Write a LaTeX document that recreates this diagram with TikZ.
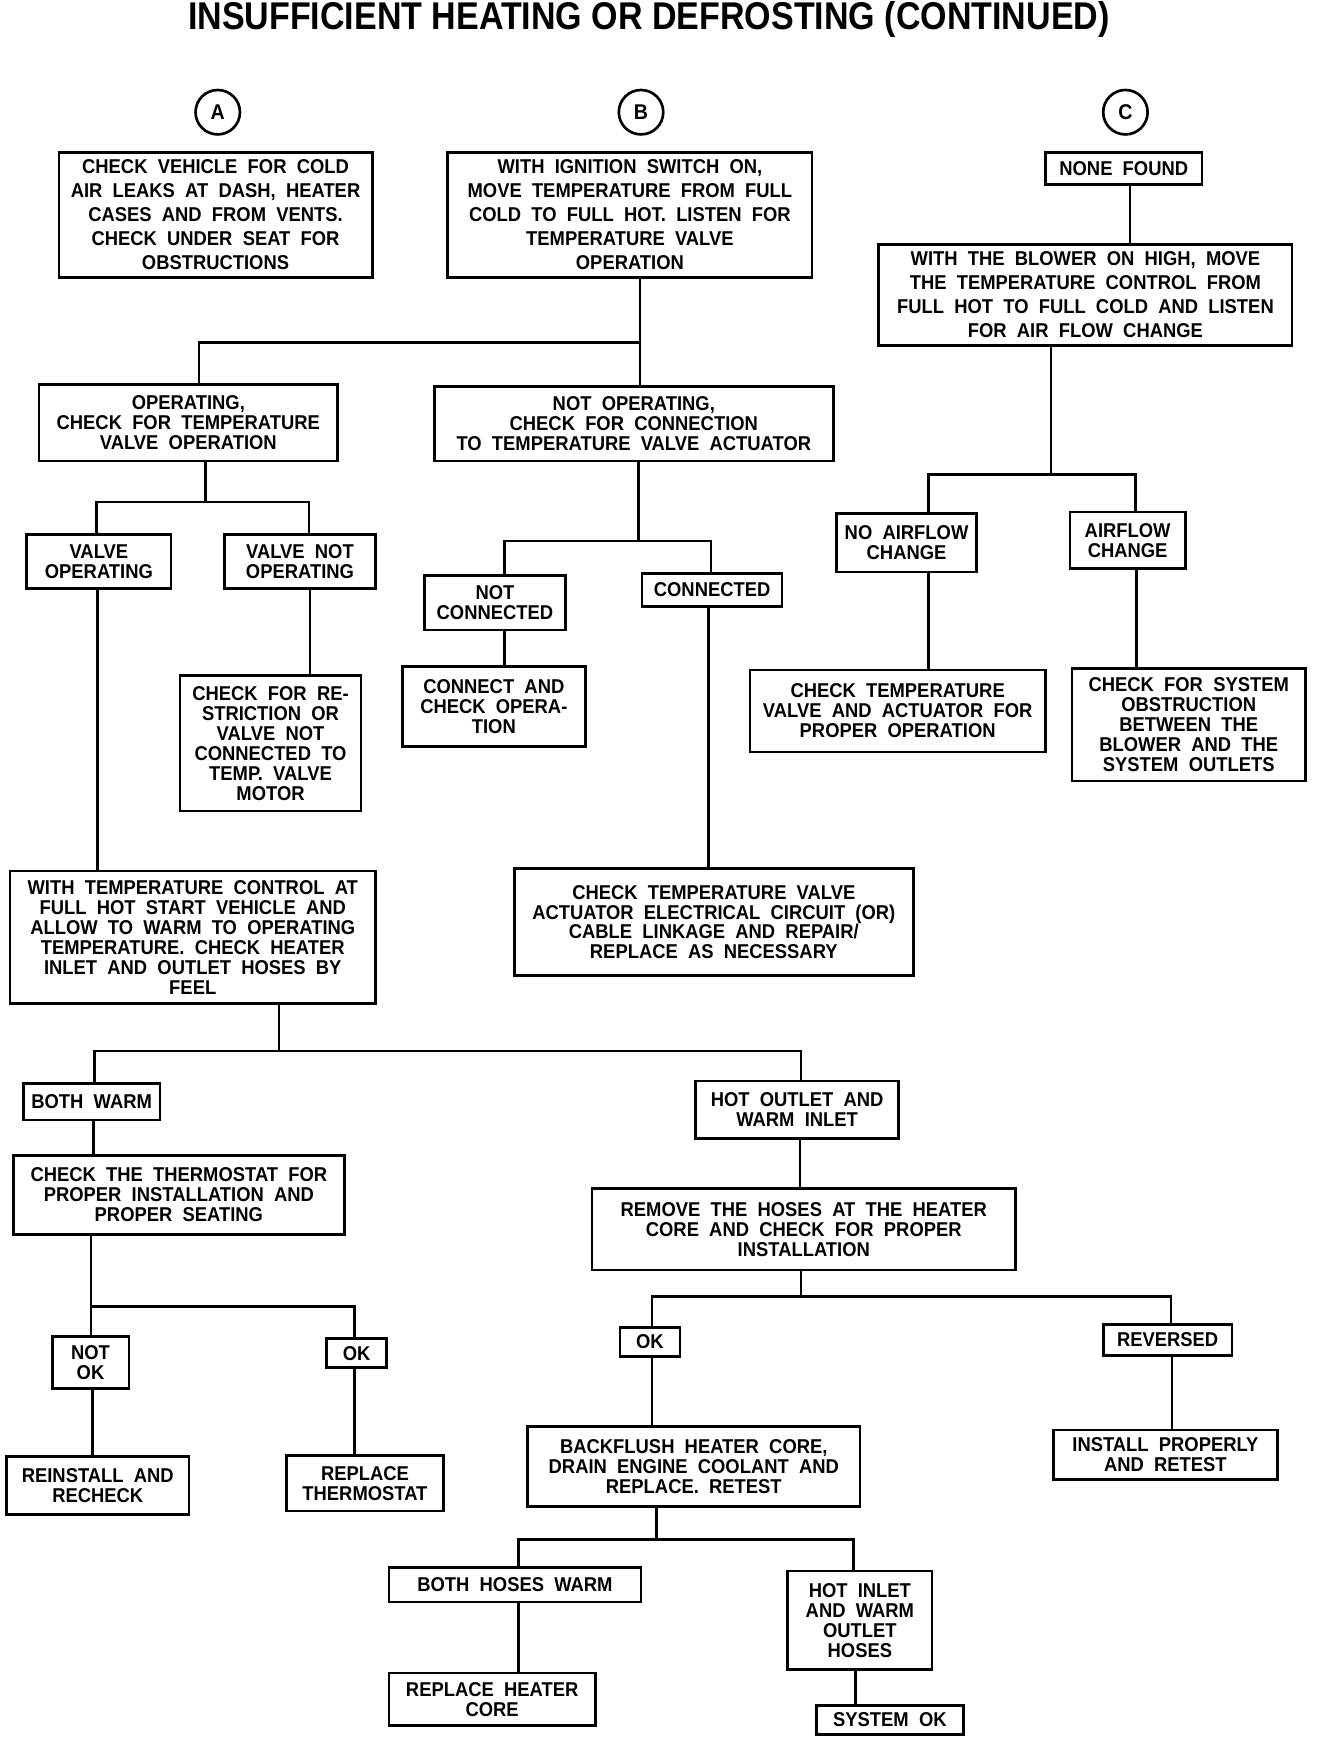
\documentclass[tikz,border=0pt]{standalone}
\usepackage{fontspec}
\setmainfont{Liberation Sans}[FakeStretch=0.92, WordSpace=2]
\newfontfamily\titlefont{Liberation Sans}[FakeStretch=0.88]
\usetikzlibrary{calc}
\tikzset{
    chartbox/.style={
        rectangle, draw=black, line width=2pt, align=center, inner sep=1pt,
        font=\bfseries\fontsize{15}{15}\selectfont
    },
    widebox/.style={
        chartbox, font=\bfseries\fontsize{15}{18}\selectfont
    },
    boxsize/.style 2 args={
        minimum width=#1*0.8335pt, minimum height=#2*0.8335pt
    },
    letter/.style={
        circle, draw=black, line width=2pt, minimum size=40*0.8335pt,
        inner sep=0pt, font=\bfseries\fontsize{16}{16}\selectfont
    },
    link/.style={
        draw=black, line width=2pt
    }
}

\begin{document}
\begin{tikzpicture}[x=0.8335pt, y=-0.8335pt]
    \useasboundingbox (0,0) rectangle (1195,1568);

    \node (title) at (584,18) {\titlefont\bfseries\fontsize{29}{29}\selectfont INSUFFICIENT HEATING OR DEFROSTING (CONTINUED)};

    \node[letter] (ta) at (196,101) {A};
    \node[letter] (tb) at (577,101) {B};
    \node[letter] (tc) at (1013,101) {C};

    % column A and B
    \node[widebox, boxsize={282}{113}] (a1) at (194,193.5) {CHECK VEHICLE FOR COLD\\AIR LEAKS AT DASH, HEATER\\CASES AND FROM VENTS.\\CHECK UNDER SEAT FOR\\OBSTRUCTIONS};
    \node[widebox, boxsize={328}{113}] (b1) at (567,193.5) {WITH IGNITION SWITCH ON,\\MOVE TEMPERATURE FROM FULL\\COLD TO FULL HOT. LISTEN FOR\\TEMPERATURE VALVE\\OPERATION};
    \node[chartbox, boxsize={269}{69}] (b2) at (169.5,380.5) {OPERATING,\\CHECK FOR TEMPERATURE\\VALVE OPERATION};
    \node[chartbox, boxsize={359}{67}] (b3) at (570.5,381.5) {NOT OPERATING,\\CHECK FOR CONNECTION\\TO TEMPERATURE VALVE ACTUATOR};
    \node[chartbox, boxsize={130}{49}] (vo) at (89,505.5) {VALVE\\OPERATING};
    \node[chartbox, boxsize={136}{49}] (vn) at (270,505.5) {VALVE NOT\\OPERATING};
    \node[chartbox, boxsize={163}{122}] (rs) at (243.5,669) {CHECK FOR RE-\\STRICTION OR\\VALVE NOT\\CONNECTED TO\\TEMP. VALVE\\MOTOR};
    \node[chartbox, boxsize={127}{49}] (nc) at (445.5,542.5) {NOT\\CONNECTED};
    \node[chartbox, boxsize={126}{30}] (cn) at (641,531) {CONNECTED};
    \node[chartbox, boxsize={165}{72}] (ca) at (444.5,636) {CONNECT AND\\CHECK OPERA-\\TION};
    \node[chartbox, boxsize={359}{96}] (ct) at (642.5,830) {CHECK TEMPERATURE VALVE\\ACTUATOR ELECTRICAL CIRCUIT (OR)\\CABLE LINKAGE AND REPAIR/\\REPLACE AS NECESSARY};

    % column C
    \node[chartbox, boxsize={141}{29}] (c0) at (1011.5,151.5) {NONE FOUND};
    \node[widebox, boxsize={372}{91}] (c1) at (977,265.5) {WITH THE BLOWER ON HIGH, MOVE\\THE TEMPERATURE CONTROL FROM\\FULL HOT TO FULL COLD AND LISTEN\\FOR AIR FLOW CHANGE};
    \node[chartbox, boxsize={126}{53}] (na) at (816,488.5) {NO AIRFLOW\\CHANGE};
    \node[chartbox, boxsize={104}{51}] (af) at (1015,486.5) {AIRFLOW\\CHANGE};
    \node[chartbox, boxsize={266}{74}] (cv) at (808,640) {CHECK TEMPERATURE\\VALVE AND ACTUATOR FOR\\PROPER OPERATION};
    \node[chartbox, boxsize={210}{101}] (so) at (1070,652.5) {CHECK FOR SYSTEM\\OBSTRUCTION\\BETWEEN THE\\BLOWER AND THE\\SYSTEM OUTLETS};

    % hoses
    \node[chartbox, boxsize={329}{119}] (wt) at (173.5,843.5) {WITH TEMPERATURE CONTROL AT\\FULL HOT START VEHICLE AND\\ALLOW TO WARM TO OPERATING\\TEMPERATURE. CHECK HEATER\\INLET AND OUTLET HOSES BY\\FEEL};
    \node[chartbox, boxsize={123}{33}] (bw) at (82.5,991.5) {BOTH WARM};
    \node[chartbox, boxsize={183}{52}] (ho) at (717.5,999) {HOT OUTLET AND\\WARM INLET};
    \node[chartbox, boxsize={298}{71}] (th) at (161,1075.5) {CHECK THE THERMOSTAT FOR\\PROPER INSTALLATION AND\\PROPER SEATING};
    \node[chartbox, boxsize={69}{47}] (nk) at (81.5,1226.5) {NOT\\OK};
    \node[chartbox, boxsize={54}{26}] (ok1) at (321,1218) {OK};
    \node[chartbox, boxsize={164}{52}] (ri) at (88,1337) {REINSTALL AND\\RECHECK};
    \node[chartbox, boxsize={141}{50}] (rt) at (328.5,1335) {REPLACE\\THERMOSTAT};
    \node[chartbox, boxsize={381}{73}] (rh) at (723.5,1106.5) {REMOVE THE HOSES AT THE HEATER\\CORE AND CHECK FOR PROPER\\INSTALLATION};
    \node[chartbox, boxsize={54}{26}] (ok2) at (585,1208) {OK};
    \node[chartbox, boxsize={116}{28}] (rv) at (1051,1206) {REVERSED};
    \node[chartbox, boxsize={299}{72}] (bf) at (624.5,1320) {BACKFLUSH HEATER CORE,\\DRAIN ENGINE COOLANT AND\\REPLACE. RETEST};
    \node[chartbox, boxsize={202}{45}] (ip) at (1049,1309.5) {INSTALL PROPERLY\\AND RETEST};
    \node[chartbox, boxsize={227}{31}] (bh) at (463.5,1426.5) {BOTH HOSES WARM};
    \node[chartbox, boxsize={130}{89}] (hi) at (774,1458.5) {HOT INLET\\AND WARM\\OUTLET\\HOSES};
    \node[chartbox, boxsize={186}{47}] (rc) at (443,1529.5) {REPLACE HEATER\\CORE};
    \node[chartbox, boxsize={132}{26}] (sk) at (801,1548) {SYSTEM OK};

    % branch points
    \coordinate (jb1) at (576,308);
    \coordinate (jb2) at (185,452);
    \coordinate (jb3) at (575,487);
    \coordinate (jc1) at (946,427);
    \coordinate (jwt) at (251,946);
    \coordinate (jth) at (82,1176);
    \coordinate (jrh) at (721,1167);
    \coordinate (jbf) at (591,1386);

    \draw[link] (b1.south -| jb1) -- (jb1) -| (b2.north -| 179,0);
    \draw[link] (jb1) -- (b3.north -| jb1);
    \draw[link] (b2.south -| jb2) -- (jb2) -| (vo.north -| 87,0);
    \draw[link] (jb2) -| (vn.north -| 278,0);
    \draw[link] (vn.south -| 279,0) -- (rs.north -| 279,0);
    \draw[link] (vo.south -| 88,0) -- (wt.north -| 88,0);
    \draw[link] (b3.south -| jb3) -- (jb3) -| (nc.north -| 454,0);
    \draw[link] (jb3) -| (cn.north -| 640,0);
    \draw[link] (nc.south -| 454,0) -- (ca.north -| 454,0);
    \draw[link] (cn.south -| 638,0) -- (ct.north -| 638,0);

    \draw[link] (c0.south -| 1017,0) -- (c1.north -| 1017,0);
    \draw[link] (c1.south -| jc1) -- (jc1) -| (na.north -| 836,0);
    \draw[link] (jc1) -| (af.north -| 1022,0);
    \draw[link] (na.south -| 836,0) -- (cv.north -| 836,0);
    \draw[link] (af.south -| 1023,0) -- (so.north -| 1023,0);

    \draw[link] (wt.south -| jwt) -- (jwt) -| (bw.north -| 85,0);
    \draw[link] (jwt) -| (ho.north -| 721,0);
    \draw[link] (bw.south -| 84,0) -- (th.north -| 84,0);
    \draw[link] (th.south -| jth) -- (jth) -- (nk.north -| jth);
    \draw[link] (jth) -| (ok1.north -| 319,0);
    \draw[link] (nk.south -| 83,0) -- (ri.north -| 83,0);
    \draw[link] (ok1.south -| 319,0) -- (rt.north -| 319,0);
    \draw[link] (ho.south -| 720,0) -- (rh.north -| 720,0);
    \draw[link] (rh.south -| jrh) -- (jrh) -| (ok2.north -| 587,0);
    \draw[link] (jrh) -| (rv.north -| 1054,0);
    \draw[link] (ok2.south -| 587,0) -- (bf.north -| 587,0);
    \draw[link] (rv.south -| 1055,0) -- (ip.north -| 1055,0);
    \draw[link] (bf.south -| jbf) -- (jbf) -| (bh.north -| 467,0);
    \draw[link] (jbf) -| (hi.north -| 768,0);
    \draw[link] (bh.south -| 467,0) -- (rc.north -| 467,0);
    \draw[link] (hi.south -| 770,0) -- (sk.north -| 770,0);
\end{tikzpicture}
\end{document}
